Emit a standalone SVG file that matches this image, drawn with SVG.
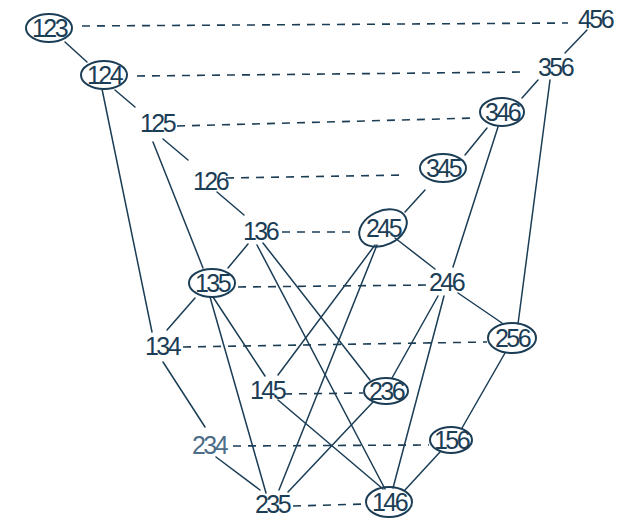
<svg xmlns="http://www.w3.org/2000/svg" width="640" height="523" viewBox="0 0 640 523">
<style>
.bg{fill:#ffffff}
.e{fill:none;stroke:#1b3d55;stroke-width:1.5;stroke-linecap:round}
.d{fill:none;stroke:#1b3d55;stroke-width:1.6;stroke-dasharray:8 7}
.o{fill:none;stroke:#1b3d55;stroke-width:2}
text{font-family:"Liberation Sans",Arial,sans-serif;font-size:25px;fill:#1b3d55;text-anchor:middle;letter-spacing:-2.5px}
.faint{fill:#4d6d88}
</style>
<rect class="bg" x="0" y="0" width="640" height="523"/>
<g id="connectors">
<g id="dashed">
<line class="d" x1="82" y1="26" x2="568" y2="23"/>
<line class="d" x1="137" y1="76" x2="523" y2="72"/>
<line class="d" x1="177" y1="126" x2="476" y2="118"/>
<line class="d" x1="226" y1="178" x2="406" y2="175"/>
<line class="d" x1="282" y1="232" x2="352" y2="232"/>
<line class="d" x1="238" y1="287" x2="428" y2="285"/>
<line class="d" x1="183" y1="347" x2="487" y2="342"/>
<line class="d" x1="284" y1="394" x2="363" y2="393"/>
<line class="d" x1="233" y1="446" x2="429" y2="445"/>
<line class="d" x1="293" y1="506" x2="366" y2="504"/>
</g>
<g id="solid">
<line class="e" x1="65" y1="42" x2="87" y2="62"/>
<line class="e" x1="115" y1="90" x2="135" y2="107"/>
<line class="e" x1="102" y1="89" x2="152" y2="332"/>
<line class="e" x1="163" y1="139" x2="188" y2="160"/>
<line class="e" x1="153" y1="142" x2="203" y2="268"/>
<line class="e" x1="217" y1="192" x2="244" y2="215"/>
<line class="e" x1="248" y1="244" x2="228" y2="268"/>
<line class="e" x1="257" y1="245" x2="385" y2="489"/>
<line class="e" x1="263" y1="243" x2="370" y2="380"/>
<line class="e" x1="195" y1="298" x2="167" y2="330"/>
<line class="e" x1="213" y1="297" x2="265" y2="376"/>
<line class="e" x1="210" y1="297" x2="266" y2="493"/>
<line class="e" x1="163" y1="362" x2="205" y2="427"/>
<line class="e" x1="278" y1="375" x2="375" y2="245"/>
<line class="e" x1="278" y1="400" x2="383" y2="489"/>
<line class="e" x1="216" y1="457" x2="260" y2="490"/>
<line class="e" x1="279" y1="490" x2="377" y2="245"/>
<line class="e" x1="288" y1="492" x2="373" y2="402"/>
<line class="e" x1="392" y1="378" x2="438" y2="296"/>
<line class="e" x1="393" y1="488" x2="444" y2="296"/>
<line class="e" x1="405" y1="490" x2="440" y2="452"/>
<line class="e" x1="462" y1="428" x2="505" y2="353"/>
<line class="e" x1="502" y1="323" x2="458" y2="293"/>
<line class="e" x1="518" y1="324" x2="550" y2="80"/>
<line class="e" x1="453" y1="267" x2="498" y2="127"/>
<line class="e" x1="395" y1="238" x2="435" y2="269"/>
<line class="e" x1="405" y1="212" x2="425" y2="190"/>
<line class="e" x1="465" y1="155" x2="487" y2="128"/>
<line class="e" x1="522" y1="98" x2="538" y2="80"/>
<line class="e" x1="565" y1="53" x2="587" y2="30"/>
</g>
</g>
<g id="n123"><ellipse class="o" cx="49" cy="28" rx="23" ry="14"/><text x="49" y="37">123</text></g>
<g id="n124"><ellipse class="o" cx="104" cy="75" rx="23" ry="14"/><text x="104" y="84">124</text></g>
<g id="n125"><text x="157" y="132">125</text></g>
<g id="n126"><text x="210" y="190">126</text></g>
<g id="n136"><text x="260" y="240">136</text></g>
<g id="n135"><ellipse class="o" cx="212" cy="283" rx="23" ry="14"/><text x="212" y="292">135</text></g>
<g id="n134"><text x="162" y="355">134</text></g>
<g id="n145"><text x="267" y="399">145</text></g>
<g id="n234"><text class="faint" x="209" y="454">234</text></g>
<g id="n235"><text x="272" y="513">235</text></g>
<g id="n146"><ellipse class="o" cx="389" cy="502" rx="23" ry="15"/><text x="389" y="511">146</text></g>
<g id="n156"><ellipse class="o" cx="451" cy="440" rx="21" ry="13"/><text x="451" y="449">156</text></g>
<g id="n236"><ellipse class="o" cx="386" cy="391" rx="22" ry="13"/><text x="386" y="400">236</text></g>
<g id="n256"><ellipse class="o" cx="512" cy="338" rx="24" ry="15"/><text x="512" y="347">256</text></g>
<g id="n246"><text x="446" y="291">246</text></g>
<g id="n245"><ellipse class="o" cx="383" cy="228" rx="25" ry="17" transform="rotate(-25 383 228)"/><text x="383" y="237">245</text></g>
<g id="n345"><ellipse class="o" cx="443" cy="168" rx="23" ry="14"/><text x="443" y="177">345</text></g>
<g id="n346"><ellipse class="o" cx="502" cy="112" rx="22" ry="14"/><text x="502" y="121">346</text></g>
<g id="n356"><text x="555" y="76">356</text></g>
<g id="n456"><text x="595" y="28">456</text></g>
</svg>
